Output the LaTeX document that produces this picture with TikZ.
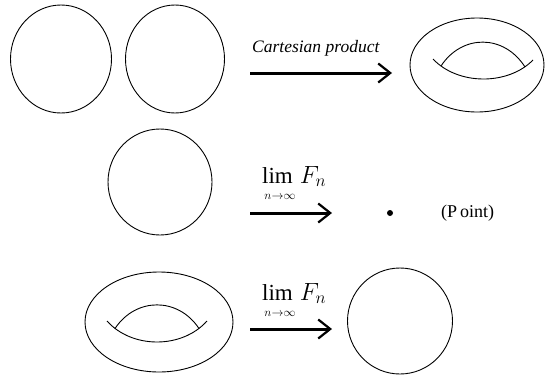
\documentclass[tikz,border=0pt]{standalone}
\usepackage{fontspec}
\setmainfont{Liberation Serif}
\usetikzlibrary{arrows.meta,shapes.geometric}
\begin{document}
\begin{tikzpicture}[x=1pt,y=-1pt,
  ring/.style={draw, ellipse, line width=0.9pt, inner sep=0pt},
  lens/.style={line width=0.9pt},
  bigarrow/.style={line width=3pt, -{Straight Barb[length=12pt,width=19pt,line width=2.2pt]}},
  lbl/.style={inner sep=0pt},
  limtxt/.style={inner sep=0pt, anchor=base west, font=\fontsize{23}{26}\selectfont},
  subtxt/.style={inner sep=0pt, anchor=center, font=\fontsize{13}{14}\selectfont}]
\useasboundingbox (0,0) rectangle (552,378);
% top row
\node[ring, minimum width=101pt, minimum height=108pt] (c1) at (61,59) {};
\node[ring, minimum width=99pt, minimum height=108pt] (c2) at (175,59) {};
\coordinate (a1s) at (250,73);
\coordinate (a1e) at (392,73);
\draw[bigarrow] (a1s) -- (a1e);
\node[lbl, anchor=south west] (t1) at (252,56) {\fontsize{17.5}{20}\selectfont\itshape Cartesian product};
\node[ring, minimum width=134pt, minimum height=94pt] (tor1) at (477,65) {};
\coordinate (l1a) at (433,59);
\coordinate (l1b) at (533,60);
\coordinate (u1a) at (441,66);
\coordinate (u1b) at (525,67);
\draw[lens] (l1a) .. controls (458,85.5) and (508,85.5) .. (l1b);
\draw[lens] (u1a) .. controls (462,34) and (504,34) .. (u1b);
% middle row
\node[ring, minimum width=104pt, minimum height=106pt] (c3) at (160,182) {};
\node[limtxt] (t2) at (262,183) {$\mathrm{lim}\;F_n$};
\node[subtxt] (s2) at (280,197) {$n{\to}\infty$};
\coordinate (a2s) at (250,213);
\coordinate (a2e) at (332,213);
\draw[bigarrow] (a2s) -- (a2e);
\node[circle, fill, inner sep=0pt, minimum size=6pt] (pt) at (390,213) {};
\node[lbl, anchor=west] (t3) at (441,213) {\fontsize{18}{20}\selectfont(P\hspace{3pt}oint)};
% bottom row
\node[ring, minimum width=148pt, minimum height=100pt] (tor2) at (159,322) {};
\coordinate (l2a) at (107,321);
\coordinate (l2b) at (207,321);
\coordinate (u2a) at (115,328.5);
\coordinate (u2b) at (199,328.5);
\draw[lens] (l2a) .. controls (132,349) and (182,349) .. (l2b);
\draw[lens] (u2a) .. controls (136,297) and (178,297) .. (u2b);
\node[limtxt] (t4) at (262,300) {$\mathrm{lim}\;F_n$};
\node[subtxt] (s4) at (280,314) {$n{\to}\infty$};
\coordinate (a3s) at (250,329);
\coordinate (a3e) at (332,329);
\draw[bigarrow] (a3s) -- (a3e);
\node[ring, minimum width=105pt, minimum height=106pt] (c4) at (400,321) {};
\end{tikzpicture}
\end{document}
